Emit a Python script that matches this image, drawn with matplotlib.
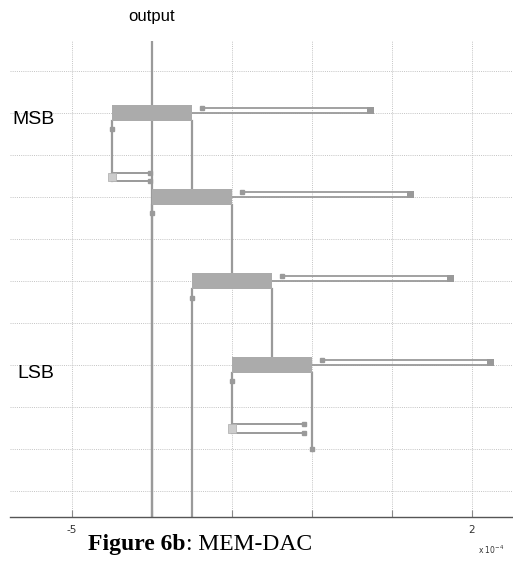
import matplotlib
matplotlib.use("Agg")
import matplotlib.pyplot as plt
from matplotlib.patches import Rectangle

# ---------------------------------------------------------------------------
# Schematic geometry (x in units of 1e-4, y in row units)
# ---------------------------------------------------------------------------
stage_left = [-0.25, 0.0, 0.25, 0.5]      # left edge of each shuttle bar
stage_y = [10.0, 8.0, 6.0, 4.0]           # centre line of each bar
bar_w = 0.5
bar_h = 0.4
spring_len = 1.13
spring_gap = 0.13
left_marker_y = [9.61, 7.61, 5.60, 3.62]  # small marks on left-edge legs

# anchor (clamp) lines under first and last stage
anchor_y = [(8.58, 8.37), (2.60, 2.39)]
anchor_x = [(-0.25, -0.012), (0.5, 0.95)]
anchor_box_x = [(-0.277, -0.227), (0.473, 0.528)]

x_ticks = [-0.5, 0.0, 0.5, 1.0, 1.5, 2.0]
x_tick_labels = ["-5", "", "", "", "", "2"]
y_grid = [1, 2, 3, 4, 5, 6, 7, 8, 9, 10, 11]

xlim = (-0.8875, 2.256)
ylim = (0.381, 11.714)

line_c = "#9a9a9a"
bar_c = "#ababab"
grid_c = "#c4c4c4"

fig = plt.figure(figsize=(5.13, 5.62), dpi=100)
ax = fig.add_axes([10 / 513, 45 / 562, 503 / 513, 476 / 562])
ax.set_xlim(*xlim)
ax.set_ylim(*ylim)

# --- grid ------------------------------------------------------------------
for xv in x_ticks:
    ax.plot([xv, xv], ylim, color=grid_c, lw=0.7, ls=(0, (1, 1.2)), zorder=0)
for yv in y_grid:
    ax.plot(xlim, [yv, yv], color=grid_c, lw=0.7, ls=(0, (1, 1.2)), zorder=0)

mk = dict(marker="s", ms=2.6, color=line_c, mec=line_c)

# --- output line -----------------------------------------------------------
ax.plot([0, 0], ylim, color=line_c, lw=1.6, zorder=2)

for i, (xl, yc) in enumerate(zip(stage_left, stage_y)):
    xr = xl + bar_w
    # shuttle bar
    ax.add_patch(Rectangle((xl, yc - bar_h / 2), bar_w, bar_h,
                           facecolor=bar_c, edgecolor="none", zorder=3))
    # right leg goes down to next bar (or to anchor for last stage)
    if i < len(stage_y) - 1:
        ax.plot([xr, xr], [yc - bar_h / 2, stage_y[i + 1] + bar_h / 2],
                color=line_c, lw=1.6, zorder=2)
    else:
        ax.plot([xr, xr], [yc - bar_h / 2, 2.0], color=line_c, lw=1.6, zorder=2)
        ax.plot([xr], [2.0], **mk, zorder=4)
    # left leg
    if i == 0:
        bottom = anchor_y[0][1]
    elif i == len(stage_y) - 1:
        bottom = anchor_y[1][1]
    else:
        bottom = ylim[0]
    ax.plot([xl, xl], [yc - bar_h / 2, bottom], color=line_c, lw=1.6, zorder=2)
    ax.plot([xl], [left_marker_y[i]], **mk, zorder=4)
    # folded spring to the right
    xe = xr + spring_len
    ax.plot([xr, xe], [yc, yc], color=line_c, lw=1.3, zorder=2)
    ax.plot([xr + 0.0625, xe], [yc + spring_gap, yc + spring_gap],
            color=line_c, lw=1.3, zorder=2)
    ax.plot([xr + 0.0625], [yc + spring_gap], **mk, zorder=4)
    ax.add_patch(Rectangle((xe - 0.035, yc - 0.02), 0.04, spring_gap + 0.04,
                           facecolor="#999999", edgecolor="none", zorder=4))

# --- anchors ---------------------------------------------------------------
for (y1, y2), (x1, x2), (bx1, bx2) in zip(anchor_y, anchor_x, anchor_box_x):
    for yv in (y1, y2):
        ax.plot([x1, x2], [yv, yv], color=line_c, lw=1.4, zorder=2)
        ax.plot([x2], [yv], **mk, zorder=4)
    ax.add_patch(Rectangle((bx1, y2), bx2 - bx1, y1 - y2,
                           facecolor="#cccccc", edgecolor="#b4b4b4",
                           lw=0.6, zorder=3))

# --- axes styling ----------------------------------------------------------
for s in ("top", "right", "left"):
    ax.spines[s].set_visible(False)
ax.spines["bottom"].set_color("#555555")
ax.spines["bottom"].set_linewidth(1.0)
ax.set_yticks([])
ax.set_xticks(x_ticks)
ax.set_xticklabels(x_tick_labels, fontsize=7.5, color="#333333")
ax.tick_params(axis="x", direction="in", length=5, color="#888888", pad=6)

# --- labels ----------------------------------------------------------------
fig.text(152 / 513, 1 - 17 / 562, "output", ha="center", va="center",
         fontsize=12, family="Liberation Sans")
fig.text(12 / 513, 1 - 119 / 562, "MSB", ha="left", va="center",
         fontsize=14, family="Liberation Sans")
fig.text(17 / 513, 1 - 374 / 562, "LSB", ha="left", va="center",
         fontsize=14, family="Liberation Sans")
fig.text(478 / 513, 1 - 550 / 562, r"x 10$^{-4}$", ha="left", va="center",
         fontsize=5.5, color="#333333")

t1 = fig.text(88 / 513, 1 - 550 / 562, "Figure 6b", ha="left", va="baseline",
              fontsize=17, fontweight="bold", family="Liberation Serif")
fig.canvas.draw()
bb = t1.get_window_extent()
fig.text(bb.x1 / fig.bbox.width, 1 - 550 / 562, ": MEM-DAC", ha="left",
         va="baseline", fontsize=17, family="Liberation Serif")

fig.savefig("out.png", dpi=100)
